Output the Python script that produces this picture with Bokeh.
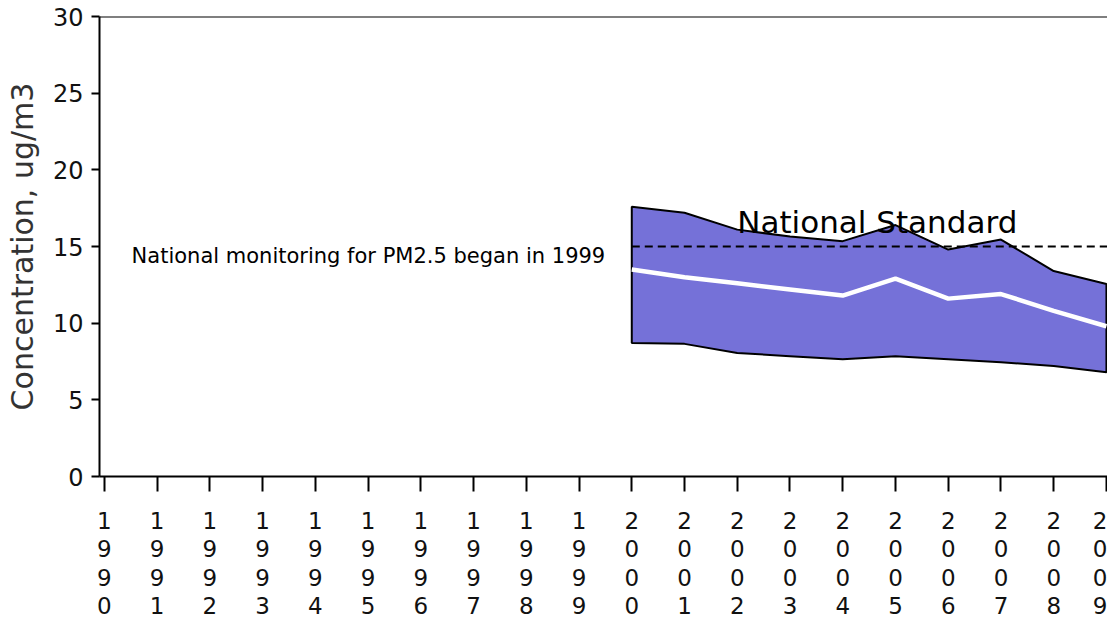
from bokeh.plotting import figure
from bokeh.models import FixedTicker, Range1d, Span
from bokeh.core.properties import value
from bokeh.embed import file_html
from bokeh.resources import INLINE

# ---- data ----
tick_years = [1990, 1991, 1992, 1993, 1994, 1995, 1996, 1997, 1998, 1999,
              2000, 2001, 2002, 2003, 2004, 2005, 2006, 2007, 2008, 2009]
band_years = [2000, 2001, 2002, 2003, 2004, 2005, 2006, 2007, 2008, 2009]
upper = [17.6, 17.2, 16.1, 15.65, 15.35, 16.4, 14.8, 15.45, 13.4, 12.55]
median = [13.5, 13.0, 12.6, 12.2, 11.8, 12.9, 11.6, 11.9, 10.8, 9.8]
lower = [8.7, 8.65, 8.05, 7.85, 7.65, 7.85, 7.65, 7.45, 7.2, 6.8]
standard = 15
y_ticks = [0, 5, 10, 15, 20, 25, 30]

FONT = "DejaVu Sans"

p = figure(width=1107, height=622, output_backend="svg", toolbar_location=None,
           x_range=Range1d(1989.908, 2009.02), y_range=Range1d(0, 30),
           min_border_left=99, min_border_right=0, min_border_top=16,
           min_border_bottom=145)
p.outline_line_color = None
p.background_fill_color = "white"
p.border_fill_color = "white"
p.xgrid.visible = False
p.ygrid.visible = False

# band
xs = band_years + band_years[::-1]
ys = upper + lower[::-1]
p.patch(xs, ys, fill_color="#7571D8", line_color="black", line_width=2)
# median line
p.line(band_years, median, line_color="white", line_width=4.5)
# national standard dashed line
p.segment(x0=[band_years[0]], y0=[standard], x1=[p.x_range.end], y1=[standard],
          line_color="black", line_width=1.8, line_dash="8 5")

# top frame line
p.add_layout(Span(location=30, dimension="width", line_color="black", line_width=2))

# annotations
p.text(x=[1995.07], y=[14.4], text=["National monitoring for PM2.5 began in  1999"],
       text_font=value(FONT), text_font_size="21px", text_align="center",
       text_baseline="middle", text_color="black")
p.text(x=[2002.0], y=[16.6], text=["National Standard"],
       text_font=value(FONT), text_font_size="31px", text_align="left",
       text_baseline="middle", text_color="black")

# axes
p.xaxis.ticker = FixedTicker(ticks=tick_years)
p.xaxis.major_label_overrides = {y: "\n".join(str(y)) for y in tick_years}
p.xaxis.major_label_text_font = FONT
p.xaxis.major_label_text_font_size = "23px"
p.xaxis.major_label_text_color = "#111111"
p.xaxis.major_label_text_line_height = 1.1
p.xaxis.major_label_standoff = 16
p.xaxis.major_tick_out = 15
p.xaxis.major_tick_in = 0
p.xaxis.minor_tick_line_color = None
p.xaxis.axis_line_width = 2
p.xaxis.major_tick_line_width = 2
p.xaxis.axis_line_color = "black"

p.yaxis.ticker = FixedTicker(ticks=y_ticks)
p.yaxis.axis_label = "Concentration, ug/m3"
p.yaxis.axis_label_text_font = FONT
p.yaxis.axis_label_text_font_size = "30px"
p.yaxis.axis_label_text_font_style = "normal"
p.yaxis.axis_label_text_color = "#333333"
p.yaxis.axis_label_standoff = 10
p.yaxis.major_label_text_font = FONT
p.yaxis.major_label_text_font_size = "24px"
p.yaxis.major_label_text_color = "#111111"
p.yaxis.major_label_standoff = 8
p.yaxis.major_tick_out = 8
p.yaxis.major_tick_in = 0
p.yaxis.minor_tick_line_color = None
p.yaxis.axis_line_width = 2
p.yaxis.major_tick_line_width = 2
p.yaxis.axis_line_color = "black"

open("out.html", "w").write(file_html(p, INLINE))
